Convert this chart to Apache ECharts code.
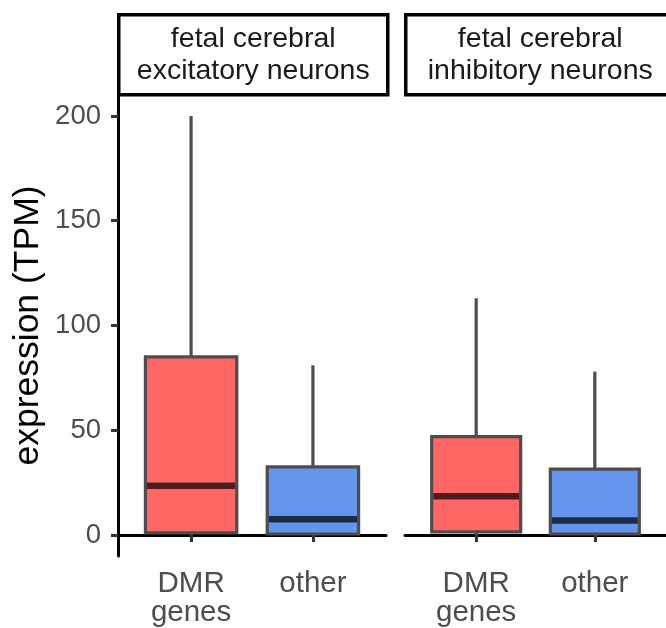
<!DOCTYPE html>
<html>
<head>
<meta charset="utf-8">
<script src="https://cdn.jsdelivr.net/npm/echarts@6/dist/echarts.min.js"></script>
<style>html,body{margin:0;padding:0;background:#fff}#c{width:666px;height:628px}</style>
</head>
<body>
<div id="c"></div>
<script>
// ---- data ----
var panels = ['fetal cerebral\nexcitatory neurons', 'fetal cerebral\ninhibitory neurons'];
var categories = ['DMR\ngenes', 'other'];
// [low whisker, Q1, median, Q3, high whisker]
var excitatoryStats = [
  [0, 1, 23.5, 85, 200],
  [0, 0.5, 7.5, 32.5, 81]
];
var inhibitoryStats = [
  [0, 1.5, 18.5, 47, 113],
  [0, 0.5, 7, 31.5, 78]
];
var yTicks = [0, 50, 100, 150, 200];
var fills = ['#FF6666', '#6495ED'];
var medianColors = ['#4d1d1d', '#1d2a47'];

var chart = echarts.init(document.getElementById('c'), null, {renderer: 'canvas'});

function toData(stats) {
  return stats.map(function (s, i) { return [i + 1].concat(s).concat([i]); });
}

function renderBox(params, api) {
  var x = api.value(0);
  var lo = api.value(1), q1 = api.value(2), med = api.value(3), q3 = api.value(4), hi = api.value(5);
  var idx = api.value(6);
  var w = api.size([0.75, 0])[0];
  var pLo = api.coord([x, lo]), pQ1 = api.coord([x, q1]), pMed = api.coord([x, med]);
  var pQ3 = api.coord([x, q3]), pHi = api.coord([x, hi]);
  var cx = pLo[0];
  var stroke = '#4d4d4d';
  var lw = 3.2;
  return {
    type: 'group',
    children: [
      {type: 'line', shape: {x1: cx, y1: pHi[1], x2: cx, y2: pQ3[1]}, style: {stroke: stroke, lineWidth: lw}},
      {type: 'line', shape: {x1: cx, y1: pQ1[1], x2: cx, y2: pLo[1]}, style: {stroke: stroke, lineWidth: lw}},
      {type: 'rect', shape: {x: cx - w / 2, y: pQ3[1], width: w, height: pQ1[1] - pQ3[1]},
        style: {fill: fills[idx], stroke: stroke, lineWidth: lw}},
      {type: 'line', shape: {x1: cx - w / 2 + 1.6, y1: pMed[1], x2: cx + w / 2 - 1.6, y2: pMed[1]},
        style: {stroke: medianColors[idx], lineWidth: 6.5}}
    ]
  };
}

var labelFont = 'Liberation Sans, Arial, sans-serif';

function xAxisCfg(gi) {
  return {
    type: 'value', gridIndex: gi, min: 0.4, max: 2.6,
    axisLine: {show: true, lineStyle: {color: '#000', width: 3}},
    axisTick: {show: true, customValues: [1, 2], length: 7, lineStyle: {color: '#333', width: 3}},
    axisLabel: {show: true, customValues: [1, 2], margin: 13, color: '#4d4d4d', fontSize: 29.5,
      fontFamily: labelFont, lineHeight: 29,
      formatter: function (v) { return categories[Math.round(v) - 1] || ''; }},
    splitLine: {show: false}
  };
}

function yAxisCfg(gi, showAxis) {
  return {
    type: 'value', gridIndex: gi, min: -10, max: 210,
    name: showAxis ? 'expression (TPM)' : '',
    nameLocation: 'middle', nameGap: 72, nameRotate: 90,
    nameTextStyle: {color: '#000', fontSize: 35.5, fontFamily: labelFont},
    axisLine: {show: showAxis, lineStyle: {color: '#000', width: 3}},
    axisTick: {show: showAxis, customValues: yTicks, length: 7, lineStyle: {color: '#333', width: 3}},
    axisLabel: {show: showAxis, customValues: yTicks, margin: 17, color: '#4d4d4d', fontSize: 27.5,
      fontFamily: labelFont},
    splitLine: {show: false}
  };
}

var grids = [
  {left: 118, top: 95, width: 268, height: 461},
  {left: 405, top: 95, width: 268, height: 461}
];

var stripGraphics = grids.map(function (g, i) {
  return {
    type: 'group', left: g.left - 1, top: 13,
    children: [
      {type: 'rect', shape: {x: 0, y: 0, width: g.width + 1, height: 80},
        style: {fill: '#fff', stroke: '#000', lineWidth: 3.5}},
      {type: 'text', x: (g.width + 1) / 2, y: 40,
        style: {text: panels[i], fill: '#1a1a1a', font: '28.5px ' + labelFont, align: 'center',
          verticalAlign: 'middle', lineHeight: 32}}
    ]
  };
});

chart.setOption({
  animation: false,
  backgroundColor: '#fff',
  grid: grids,
  xAxis: [xAxisCfg(0), xAxisCfg(1)],
  yAxis: [yAxisCfg(0, true), yAxisCfg(1, false)],
  graphic: stripGraphics,
  series: [
    {type: 'custom', xAxisIndex: 0, yAxisIndex: 0, renderItem: renderBox, data: toData(excitatoryStats),
      encode: {x: 0, y: [1, 2, 3, 4, 5]}},
    {type: 'custom', xAxisIndex: 1, yAxisIndex: 1, renderItem: renderBox, data: toData(inhibitoryStats),
      encode: {x: 0, y: [1, 2, 3, 4, 5]}}
  ]
});
</script>
</body>
</html>
